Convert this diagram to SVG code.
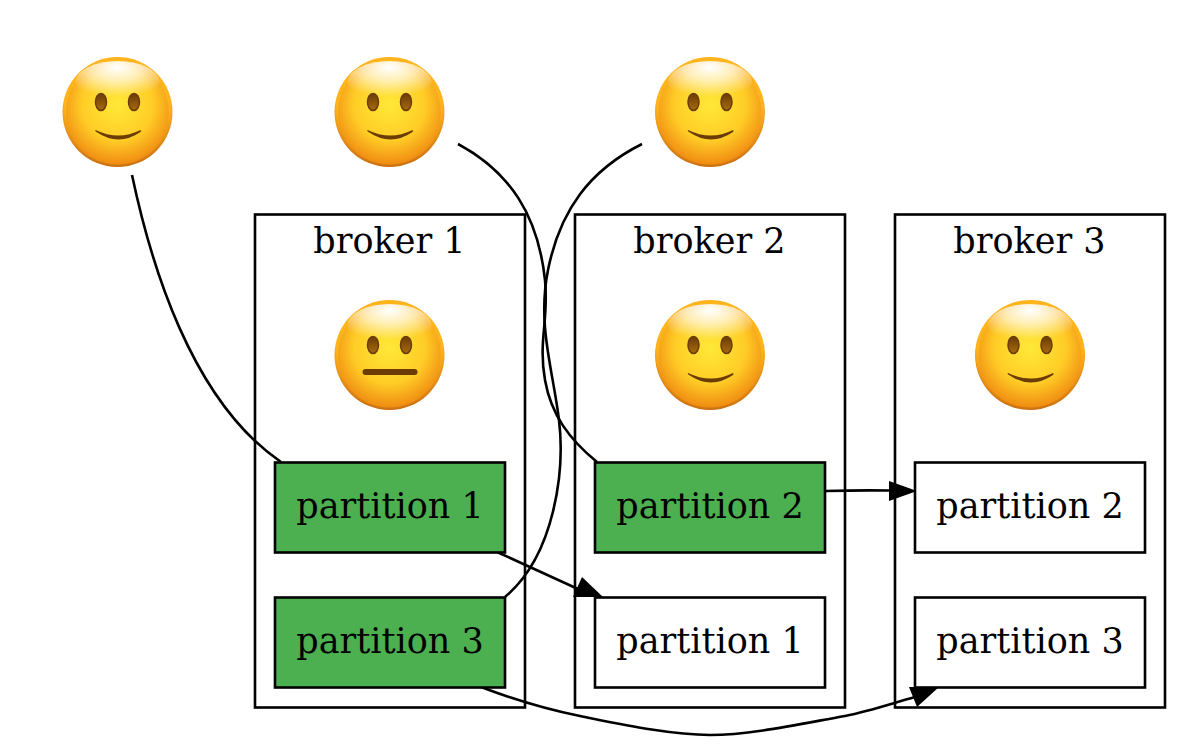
<svg xmlns="http://www.w3.org/2000/svg" width="1195" height="745" viewBox="0 0 1195 745">
<style>
.frame{fill:none;stroke:#000;stroke-width:2.6}
.box{fill:#fff;stroke:#000;stroke-width:2.6}
.leader{fill:#4caf50}
text{font-family:"DejaVu Serif",serif;font-size:35px;fill:#000;text-anchor:middle}
.edge{fill:none;stroke:#000;stroke-width:2.6}
.rim{fill:url(#rim)}
.face{fill:url(#face)}
.eye{fill:url(#eye);stroke:#6b3c05;stroke-width:1.500}
.mouth{fill:#6b3c05}
</style>
<defs>
<radialGradient id="rim" cx="50%" cy="40%" r="60%">
<stop offset="0.8" stop-color="#ffb41c"/><stop offset="1" stop-color="#c96c10"/>
</radialGradient>
<radialGradient id="face" cx="50%" cy="42%" r="58%">
<stop offset="0" stop-color="#ffe838"/><stop offset="0.6" stop-color="#ffcc26"/><stop offset="1" stop-color="#f08c12"/>
</radialGradient>
<radialGradient id="shine" cx="50%" cy="15%" r="70%">
<stop offset="0" stop-color="#fff" stop-opacity="1"/><stop offset="0.45" stop-color="#fff" stop-opacity="0.65"/><stop offset="1" stop-color="#fff" stop-opacity="0"/>
</radialGradient>
<linearGradient id="eye" x1="0" y1="0" x2="0" y2="1">
<stop offset="0" stop-color="#6b3c05"/><stop offset="1" stop-color="#a86a10"/>
</linearGradient>
<g id="head">
<circle class="rim" r="55"/>
<circle class="face" r="51.5" cy="1"/>
<ellipse cx="0" cy="-30" rx="42" ry="21" fill="url(#shine)"/>
<ellipse class="eye" cx="-16.500" cy="-10" rx="5.500" ry="8.500"/>
<ellipse class="eye" cx="16.500" cy="-10" rx="5.500" ry="8.500"/>
</g>
<g id="smile">
<use href="#head"/>
<path class="mouth" d="M-22,18 Q1,29 23,18 Q24,19 23,20 Q1,35 -21,20 Q-23,19 -22,18Z"/>
</g>
<g id="neutral">
<use href="#head"/>
<rect class="mouth" x="-27" y="14" width="55" height="6" rx="3"/>
</g>
</defs>
<rect width="1195" height="745" fill="#fff"/>
<g id="face-1"><use href="#smile" x="117.500" y="112"/></g>
<g id="face-2"><use href="#smile" x="389.500" y="112"/></g>
<g id="face-3"><use href="#smile" x="710" y="112"/></g>
<g id="broker-1">
<rect class="frame" x="255" y="214.500" width="270" height="493"/>
<text x="389.500" y="253">broker 1</text>
<use href="#neutral" x="389.500" y="355"/>
</g>
<g id="broker-2">
<rect class="frame" x="575" y="214.500" width="270" height="493"/>
<text x="709.500" y="253">broker 2</text>
<use href="#smile" x="710" y="355"/>
</g>
<g id="broker-3">
<rect class="frame" x="895" y="214.500" width="270" height="493"/>
<text x="1029.500" y="253">broker 3</text>
<use href="#smile" x="1030" y="355"/>
</g>
<g id="connectors">
<path class="edge" d="M132,175 C150,260 190,400 281,462"/>
<path class="edge" d="M458,144 C510,172 538,215 545,280 C549,320 538,340 545,380 C551,415 570,440 597,462"/>
<path class="edge" d="M642,144 C590,170 560,210 548,270 C537,325 553,370 559,420 C565,470 555,555 505,597"/>
<path class="edge" d="M497,552 L578,589"/>
<polygon points="603,597 573,597 582,577"/>
<path class="edge" d="M825,491 Q860,490 890,490.500"/>
<polygon points="917,491 889,481 889,501"/>
<path class="edge" d="M481,687 C510,698 540,708 580,716 C620,724 670,735 710,735 C750,735 800,724 845,716 C870,711 890,704 915,697"/>
<polygon points="939,687 909,687 917,707"/>
</g>
<g id="b1-partition-1"><rect class="box leader" x="275" y="462.500" width="230" height="90"/><text x="390" y="518">partition 1</text></g>
<g id="b1-partition-3"><rect class="box leader" x="275" y="597.500" width="230" height="90"/><text x="390" y="653">partition 3</text></g>
<g id="b2-partition-2"><rect class="box leader" x="595" y="462.500" width="230" height="90"/><text x="710" y="518">partition 2</text></g>
<g id="b2-partition-1"><rect class="box" x="595" y="597.500" width="230" height="90"/><text x="710" y="653">partition 1</text></g>
<g id="b3-partition-2"><rect class="box" x="915" y="462.500" width="230" height="90"/><text x="1030" y="518">partition 2</text></g>
<g id="b3-partition-3"><rect class="box" x="915" y="597.500" width="230" height="90"/><text x="1030" y="653">partition 3</text></g>
</svg>
